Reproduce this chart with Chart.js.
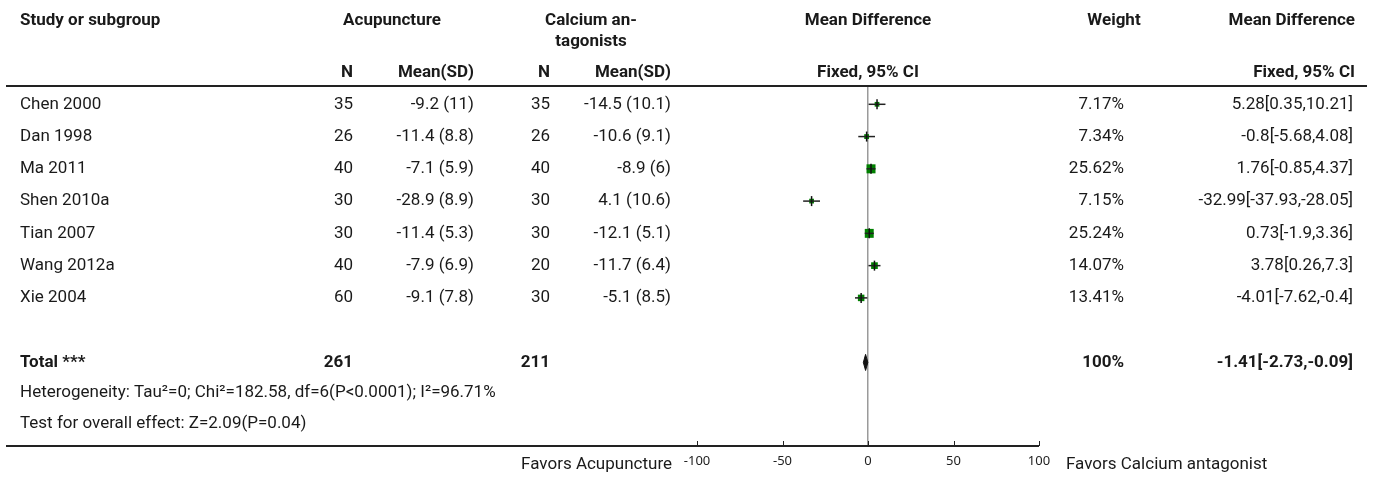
<!DOCTYPE html>
<html>
<head>
<meta charset="utf-8">
<title>Acupuncture vs calcium antagonists</title>
<script src="https://cdn.jsdelivr.net/npm/chart.js@4.4.1/dist/chart.umd.min.js"></script>
<style>
  html, body { margin: 0; padding: 0; background: #fff; }
  canvas { display: block; }
</style>
</head>
<body>
<canvas id="forestChart" width="1373" height="478"></canvas>
<script>
const studies = ['Chen 2000', 'Dan 1998', 'Ma 2011', 'Shen 2010a', 'Tian 2007', 'Wang 2012a', 'Xie 2004'];
const acuN = [35, 26, 40, 30, 30, 40, 60];
const acuMean = [-9.2, -11.4, -7.1, -28.9, -11.4, -7.9, -9.1];
const acuSD = [11, 8.8, 5.9, 8.9, 5.3, 6.9, 7.8];
const ccbN = [35, 26, 40, 30, 30, 20, 30];
const ccbMean = [-14.5, -10.6, -8.9, 4.1, -12.1, -11.7, -5.1];
const ccbSD = [10.1, 9.1, 6, 10.6, 5.1, 6.4, 8.5];
const weights = [7.17, 7.34, 25.62, 7.15, 25.24, 14.07, 13.41];
const meanDiff = [5.28, -0.8, 1.76, -32.99, 0.73, 3.78, -4.01];
const ciLow = [0.35, -5.68, -0.85, -37.93, -1.9, 0.26, -7.62];
const ciHigh = [10.21, 4.08, 4.37, -28.05, 3.36, 7.3, -0.4];
const totalN = [261, 211];
const totalWeight = '100%';
const totalMD = [-1.41, -2.73, -0.09]; // estimate, low, high
const xTicks = [-100, -50, 0, 50, 100];
const heterogeneity = 'Heterogeneity: Tau\u00b2=0; Chi\u00b2=182.58, df=6(P<0.0001); I\u00b2=96.71%';
const overallEffect = 'Test for overall effect: Z=2.09(P=0.04)';

const TOTAL_ROW = studies.length + 1;
const FONT = 'Roboto';

// rows: y value = row index, so the y scale puts every row on its own line
const squares = studies.map((s, i) => ({ x: meanDiff[i], y: i }));
const ciSets = studies.map((s, i) => ({
    type: 'line',
    data: [{ x: ciLow[i], y: i }, { x: ciHigh[i], y: i }],
    borderColor: '#222',
    borderWidth: 1.5,
    pointRadius: 0,
    order: 1
}));

const diamondH = 0.25;
const diamond = [
    { x: totalMD[1], y: TOTAL_ROW },
    { x: totalMD[0], y: TOTAL_ROW - diamondH },
    { x: totalMD[2], y: TOTAL_ROW },
    { x: totalMD[0], y: TOTAL_ROW + diamondH },
    { x: totalMD[1], y: TOTAL_ROW }
];

const tablePlugin = {
    id: 'forestTable',
    afterDraw(chart) {
        const ctx = chart.ctx;
        const xs = chart.scales.x;
        const ys = chart.scales.y;
        const area = chart.chartArea;
        const zeroX = xs.getPixelForValue(0);

        function text(str, px, py, align, bold) {
            ctx.font = (bold ? 'bold ' : '') + '17px ' + FONT;
            ctx.textAlign = align;
            ctx.fillText(str, px, py);
        }

        ctx.save();
        ctx.fillStyle = '#1a1a1a';
        ctx.textBaseline = 'middle';

        // header
        text('Study or subgroup', 20, 21, 'left', true);
        text('Acupuncture', 392, 21, 'center', true);
        text('Calcium an-', 591, 21, 'center', true);
        text('tagonists', 591, 42, 'center', true);
        text('Mean Difference', zeroX, 21, 'center', true);
        text('Weight', 1114, 21, 'center', true);
        text('Mean Difference', 1355, 21, 'right', true);
        text('N', 353, 73, 'right', true);
        text('Mean(SD)', 474, 73, 'right', true);
        text('N', 550, 73, 'right', true);
        text('Mean(SD)', 671, 73, 'right', true);
        text('Fixed, 95% CI', zeroX, 73, 'center', true);
        text('Fixed, 95% CI', 1355, 73, 'right', true);

        // study rows
        studies.forEach((s, i) => {
            const py = ys.getPixelForValue(i);
            text(s, 20, py, 'left', false);
            text(String(acuN[i]), 353, py, 'right', false);
            text(acuMean[i] + ' (' + acuSD[i] + ')', 474, py, 'right', false);
            text(String(ccbN[i]), 550, py, 'right', false);
            text(ccbMean[i] + ' (' + ccbSD[i] + ')', 671, py, 'right', false);
            text(weights[i] + '%', 1124, py, 'right', false);
            text(meanDiff[i] + '[' + ciLow[i] + ',' + ciHigh[i] + ']', 1353, py, 'right', false);
        });

        // total
        const ty = ys.getPixelForValue(TOTAL_ROW);
        text('Total ***', 20, ty, 'left', true);
        text(String(totalN[0]), 353, ty, 'right', true);
        text(String(totalN[1]), 550, ty, 'right', true);
        text(totalWeight, 1124, ty, 'right', true);
        text(totalMD[0] + '[' + totalMD[1] + ',' + totalMD[2] + ']', 1353, ty, 'right', true);

        text(heterogeneity, 20, ys.getPixelForValue(TOTAL_ROW + 0.93), 'left', false);
        text(overallEffect, 20, ys.getPixelForValue(TOTAL_ROW + 1.89), 'left', false);

        // favours labels
        text('Favors Acupuncture', 672, 465, 'right', false);
        text('Favors Calcium antagonist', 1066, 465, 'left', false);

        // table rules
        ctx.strokeStyle = '#222';
        ctx.lineWidth = 2;
        ctx.beginPath();
        ctx.moveTo(6, area.top);
        ctx.lineTo(1367, area.top);
        ctx.stroke();
        ctx.beginPath();
        ctx.moveTo(6, area.bottom);
        ctx.lineTo(xs.getPixelForValue(xTicks[xTicks.length - 1]), area.bottom);
        ctx.stroke();

        // axis ticks pointing up
        ctx.lineWidth = 1;
        xs.ticks.forEach(t => {
            const px = Math.round(xs.getPixelForValue(t.value)) + 0.5;
            ctx.beginPath();
            ctx.moveTo(px, area.bottom);
            ctx.lineTo(px, area.bottom - 5);
            ctx.stroke();
        });
        ctx.restore();
    }
};

new Chart(document.getElementById('forestChart'), {
    type: 'scatter',
    data: {
        datasets: [
            {
                data: squares,
                pointStyle: 'line',
                rotation: 90,
                pointRadius: 5,
                borderColor: '#111',
                borderWidth: 1.5,
                order: 0
            },
            ...ciSets,
            {
                data: squares,
                pointStyle: 'rect',
                pointRadius: c => 1.26 * Math.sqrt(weights[c.dataIndex]),
                backgroundColor: '#008000',
                borderWidth: 0,
                order: 2
            },
            {
                type: 'line',
                data: diamond,
                borderColor: '#111',
                backgroundColor: '#111',
                borderWidth: 1,
                pointRadius: 0,
                fill: 'shape',
                order: 1
            }
        ]
    },
    options: {
        responsive: false,
        animation: false,
        events: [],
        layout: { padding: { left: 697, right: 334, top: 86, bottom: 0 } },
        plugins: { legend: { display: false }, tooltip: { enabled: false } },
        scales: {
            x: {
                type: 'linear',
                min: xTicks[0],
                max: xTicks[xTicks.length - 1],
                afterBuildTicks: scale => { scale.ticks = xTicks.map(v => ({ value: v })); },
                afterFit: scale => { scale.height = 32; },
                grid: {
                    drawTicks: false,
                    lineWidth: 1.5,
                    color: c => (c.tick && c.tick.value === 0 ? '#9a9a9a' : 'rgba(0,0,0,0)')
                },
                border: { display: false },
                ticks: { padding: 7, color: '#222', font: { family: 'Noto Sans', size: 13 } }
            },
            y: {
                type: 'linear',
                display: false,
                reverse: true,
                min: -0.567,
                max: 10.59
            }
        }
    },
    plugins: [tablePlugin]
});
</script>
</body>
</html>
